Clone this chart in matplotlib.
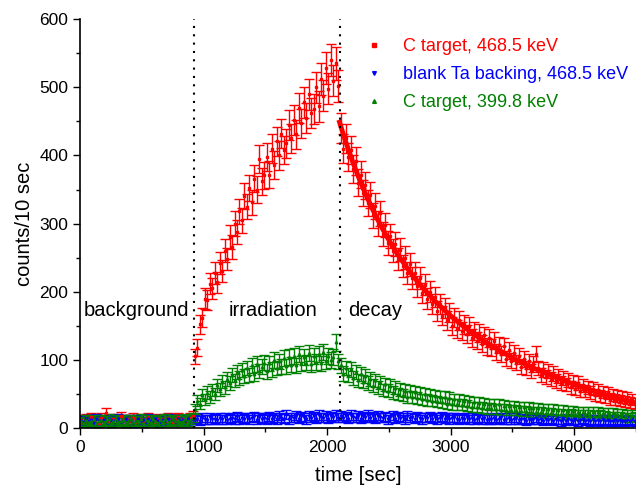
import matplotlib
matplotlib.use('Agg')
import matplotlib.pyplot as plt
from matplotlib.ticker import MultipleLocator
import numpy as np

plt.rcParams['font.family'] = ['Liberation Sans', 'DejaVu Sans']

labelSize = 14.5
tickSize = 12.5
legendSize = 13

# measurement times: one point every 20 s
t_first, t_step, n_points = 10, 20, 225
time = t_first + t_step * np.arange(n_points)

t_irr_start = 920
t_irr_end = 2100

# C target, 468.5 keV (counts / 10 sec)
c468 = [
    12, 9, 14, 11, 16, 10, 13, 8, 15, 12,
    22, 11, 9, 14, 13, 10, 17, 12, 8, 13,
    11, 15, 9, 12, 14, 10, 13, 16, 11, 9,
    12, 14, 10, 13, 11, 15, 12, 9, 14, 16,
    11, 13, 10, 12, 15, 18,
    # irradiation
    105, 118, 152, 162, 190, 188, 212, 205, 228, 214,
    242, 230, 260, 248, 281, 266, 300, 288, 318, 305,
    340, 325, 352, 331, 366, 350, 395, 362, 371, 398,
    372, 410, 386, 421, 400, 432, 408, 418, 445, 425,
    452, 431, 470, 447, 478, 455, 490, 462, 468, 500,
    472, 512, 488, 528, 498, 540, 510, 535, 502,
    # decay
    440, 410, 425, 398, 408, 380, 392, 360, 372, 345,
    356, 330, 342, 312, 326, 300, 315, 285, 298, 272,
    282, 260, 270, 248, 262, 238, 250, 228, 240, 220,
    228, 208, 220, 198, 210, 190, 200, 182, 192, 172,
    182, 165, 176, 158, 170, 150, 162, 146, 158, 142,
    152, 138, 150, 132, 143, 128, 140, 124, 136, 120,
    132, 118, 128, 112, 122, 108, 120, 102, 114, 99,
    110, 96, 106, 90, 101, 88, 98, 84, 94, 108,
    88, 78, 86, 75, 84, 72, 80, 69, 77, 66,
    74, 64, 71, 60, 68, 58, 66, 55, 62, 54,
    60, 52, 58, 49, 56, 47, 53, 45, 51, 43,
    49, 42, 47, 40, 46, 39, 44, 37, 42, 36,
]

# blank Ta backing, 468.5 keV
blank468 = [
    11, 9, 13, 10, 12, 8, 14, 11, 10, 12,
    9, 13, 11, 10, 12, 14, 9, 11, 13, 10,
    12, 8, 11, 13, 10, 12, 9, 14, 11, 10,
    13, 11, 9, 12, 10, 14, 11, 12, 9, 13,
    10, 12, 11, 13, 10, 12,
    12, 14, 11, 15, 13, 12, 16, 13, 14, 12,
    15, 13, 16, 12, 14, 15, 13, 17, 12, 15,
    14, 16, 13, 15, 17, 12, 16, 14, 15, 13,
    17, 14, 16, 13, 18, 15, 14, 20, 13, 16,
    15, 18, 14, 17, 16, 13, 18, 15, 17, 14,
    19, 16, 15, 18, 14, 17, 16, 19, 15,
    18, 15, 17, 14, 19, 16, 15, 18, 14, 17,
    16, 19, 15, 17, 14, 18, 16, 15, 17, 13,
    16, 18, 14, 17, 15, 16, 13, 18, 15, 16,
    14, 17, 15, 13, 16, 15, 17, 14, 16, 13,
    15, 17, 14, 16, 13, 15, 16, 14, 12, 15,
    14, 16, 13, 15, 12, 14, 16, 13, 15, 12,
    14, 13, 15, 12, 14, 16, 12, 13, 15, 12,
    13, 15, 12, 14, 13, 11, 14, 12, 13, 15,
    12, 14, 11, 13, 12, 14, 11, 13, 12, 10,
    13, 11, 14, 12, 11, 13, 10, 12, 14, 11,
    12, 10, 13, 11, 12, 10, 13, 11, 12, 10,
    11, 13, 10, 12, 11, 10, 12, 11, 13, 10,
]

# C target, 399.8 keV
c400 = [
    10, 8, 12, 9, 11, 13, 7, 10, 12, 9,
    11, 14, 8, 10, 13, 9, 11, 12, 8, 10,
    13, 9, 11, 10, 14, 8, 12, 10, 9, 13,
    11, 8, 12, 10, 14, 9, 11, 13, 10, 12,
    9, 11, 14, 10, 12, 15,
    28, 40, 36, 48, 42, 52, 45, 56, 50, 63,
    57, 68, 60, 72, 66, 78, 70, 82, 74, 85,
    76, 88, 78, 92, 80, 94, 84, 90, 96, 83,
    95, 86, 100, 88, 98, 90, 103, 91, 104, 93,
    106, 92, 108, 95, 104, 96, 110, 94, 106, 97,
    108, 95, 112, 98, 106, 100, 104, 126, 98,
    92, 80, 88, 78, 86, 74, 82, 70, 79, 68,
    76, 66, 72, 62, 70, 60, 67, 56, 64, 55,
    62, 52, 59, 50, 57, 48, 55, 46, 54, 45,
    53, 44, 51, 42, 50, 41, 48, 40, 47, 39,
    46, 38, 45, 36, 44, 35, 42, 35, 41, 34,
    40, 33, 39, 31, 38, 31, 37, 30, 36, 29,
    35, 29, 34, 28, 35, 27, 33, 27, 32, 26,
    32, 26, 31, 25, 31, 25, 30, 24, 29, 24,
    29, 23, 28, 22, 28, 22, 27, 21, 26, 21,
    26, 20, 25, 21, 25, 20, 24, 19, 24, 20,
    24, 19, 23, 18, 23, 19, 22, 18, 22, 17,
    22, 17, 21, 17, 21, 16, 20, 16, 19, 17,
]

series = [
    (c468, '#FF0000', 's', 'C target, 468.5 keV'),
    (blank468, '#0000FF', 'v', 'blank Ta backing, 468.5 keV'),
    (c400, '#008000', '^', 'C target, 399.8 keV'),
]

fig, ax = plt.subplots(figsize=(6.36, 4.92), dpi=100)
fig.subplots_adjust(left=0.126, right=1.0, bottom=0.130, top=0.961)

handles = []
for counts, color, marker, label in series:
    counts = np.array(counts, dtype=float)
    # counting uncertainty incl. background contribution
    err = np.sqrt(counts + 30)
    h = ax.errorbar(time, counts, yerr=err, fmt=marker, color=color, ms=1.8,
                    elinewidth=1.0, capsize=3.5, capthick=1.0, label=label)
    handles.append(h)

# decay fit to the C target 468.5 keV data
c468_arr = np.array(c468, dtype=float)
decay = time > t_irr_end
coef = np.polyfit(time[decay], np.log(c468_arr[decay]), 3)
t_fit = np.linspace(t_irr_end, 4500, 300)
ax.plot(t_fit, np.exp(np.polyval(coef, t_fit)), color='#FF0000', lw=3.5, zorder=5)

for tv in (t_irr_start, t_irr_end):
    ax.axvline(tv, color='black', lw=1.5, linestyle=(0, (1, 3)), zorder=6)

ax.text(25, 172, 'background', fontsize=labelSize, va='center')
ax.text(1200, 172, 'irradiation', fontsize=labelSize, va='center')
ax.text(2170, 172, 'decay', fontsize=labelSize, va='center')

ax.set_xlim(0, 4500)
ax.set_ylim(0, 600)
ax.xaxis.set_major_locator(MultipleLocator(1000))
ax.xaxis.set_minor_locator(MultipleLocator(500))
ax.yaxis.set_major_locator(MultipleLocator(100))
ax.yaxis.set_minor_locator(MultipleLocator(50))
ax.tick_params(which='both', direction='out', labelsize=tickSize, width=1.0)
ax.tick_params(which='major', length=5)
ax.tick_params(which='minor', length=3)

ax.spines['top'].set_visible(False)
ax.spines['right'].set_visible(False)
ax.spines['left'].set_linewidth(1.2)
ax.spines['bottom'].set_linewidth(1.2)

ax.set_xlabel('time [sec]', fontsize=labelSize, labelpad=8)
ax.set_ylabel('counts/10 sec', fontsize=labelSize)

leg = ax.legend(handles=[h[0] for h in handles], labels=[s[3] for s in series],
                loc='upper right', bbox_to_anchor=(0.998, 0.972),
                frameon=False, fontsize=legendSize,
                markerscale=1.5, handlelength=1.0, handletextpad=1.1,
                labelspacing=0.62, borderaxespad=0.0)
for text, s in zip(leg.get_texts(), series):
    text.set_color(s[1])

plt.savefig('out.png', dpi=100)
